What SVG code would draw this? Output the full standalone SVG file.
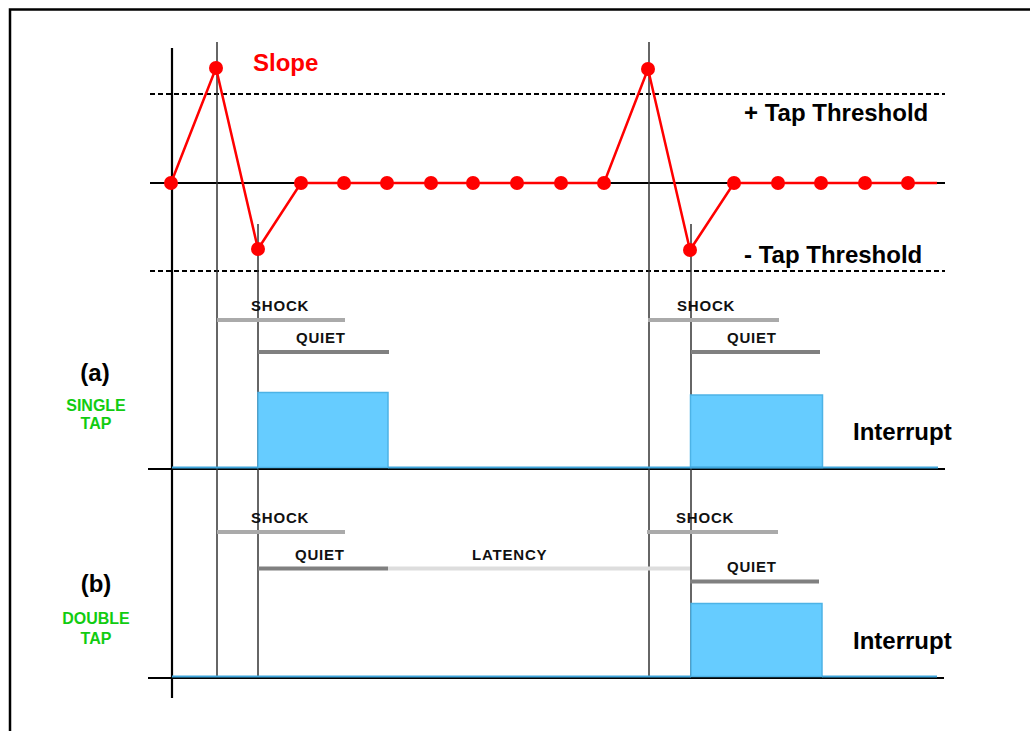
<svg xmlns="http://www.w3.org/2000/svg" width="1030" height="731" viewBox="0 0 1030 731">
<style>
.axis{stroke:#000;stroke-width:2.2;fill:none}
.dash{stroke:#000;stroke-width:2.2;stroke-dasharray:5 3;fill:none}
.vl{stroke:#333;stroke-width:1.5;fill:none}
.sig{stroke:#3fa6dc;stroke-width:2;fill:none}
.pulse{fill:#66ccff;stroke:#4db3e6;stroke-width:1.5}
.shock{stroke:#aaaaaa;stroke-width:4}
.quiet{stroke:#808080;stroke-width:4}
.lat{stroke:#dddddd;stroke-width:4}
.big{font-family:"Liberation Sans",Arial,sans-serif;font-weight:bold;font-size:24px;fill:#000}
.small{font-family:"Liberation Sans",Arial,sans-serif;font-weight:bold;font-size:15px;letter-spacing:0.8px;fill:#111}
.green{font-family:"Liberation Sans",Arial,sans-serif;font-weight:bold;font-size:16px;fill:#11cc11;text-anchor:middle}
.dot{fill:#ff0000}
</style>
<rect width="1030" height="731" fill="#fff"/>
<path d="M10,731 L10,9.5 L1032,9.5" fill="none" stroke="#000" stroke-width="2.5"/>

<g id="axes">
<line class="axis" x1="172" y1="48" x2="172" y2="698"/>
<line class="axis" x1="150" y1="183" x2="945" y2="183"/>
<line class="axis" x1="148" y1="469" x2="945" y2="469"/>
<line class="axis" x1="148" y1="678" x2="944" y2="678"/>
<line class="dash" x1="150" y1="94" x2="945" y2="94"/>
<line class="dash" x1="150" y1="271" x2="945" y2="271"/>
</g>

<g id="markers">
<line class="vl" x1="217" y1="42" x2="217" y2="677"/>
<line class="vl" x1="258" y1="224" x2="258" y2="677"/>
<line class="vl" x1="649" y1="42" x2="649" y2="677"/>
<line class="vl" x1="691" y1="224" x2="691" y2="677"/>
</g>

<g id="single-tap">
<line class="shock" x1="217" y1="320" x2="345" y2="320"/>
<line class="quiet" x1="258" y1="352" x2="389" y2="352"/>
<line class="shock" x1="648" y1="320" x2="779" y2="320"/>
<line class="quiet" x1="691" y1="352" x2="820" y2="352"/>
<rect class="pulse" x="258" y="392.5" width="130" height="75"/>
<rect class="pulse" x="690.5" y="395" width="132" height="72.5"/>
<polyline class="sig" points="172,467.5 258,467.5"/>
<polyline class="sig" points="388,467.5 938,467.5"/>
<text class="small" x="251" y="311">SHOCK</text>
<text class="small" x="296" y="343">QUIET</text>
<text class="small" x="677" y="311">SHOCK</text>
<text class="small" x="727" y="343">QUIET</text>
<text class="big" x="853" y="440">Interrupt</text>
<text class="big" x="95" y="381" text-anchor="middle">(a)</text>
<text class="green" x="96" y="411">SINGLE</text>
<text class="green" x="96" y="429">TAP</text>
</g>

<g id="double-tap">
<line class="shock" x1="217" y1="532" x2="345" y2="532"/>
<line class="lat" x1="388" y1="568.5" x2="690" y2="568.5"/>
<line class="quiet" x1="258" y1="568.5" x2="388" y2="568.5"/>
<line class="shock" x1="647" y1="532" x2="778" y2="532"/>
<line class="quiet" x1="690" y1="581.5" x2="819" y2="581.5"/>
<rect class="pulse" x="691" y="603.5" width="131" height="73"/>
<polyline class="sig" points="172,676.5 691,676.5"/>
<polyline class="sig" points="822,676.5 937,676.5"/>
<text class="small" x="251" y="523">SHOCK</text>
<text class="small" x="295" y="560">QUIET</text>
<text class="small" x="472" y="560">LATENCY</text>
<text class="small" x="676" y="523">SHOCK</text>
<text class="small" x="727" y="572">QUIET</text>
<text class="big" x="853" y="649">Interrupt</text>
<text class="big" x="96" y="592" text-anchor="middle">(b)</text>
<text class="green" x="96" y="624">DOUBLE</text>
<text class="green" x="96" y="644">TAP</text>
</g>

<g id="slope">
<polyline fill="none" stroke="#ff0000" stroke-width="2.5" points="171,183 216,68 258,249 301,183 344,183 387,183 431,183 473,183 517,183 561,183 604,183 648,69 690,250 734,183 778,183 821,183 865,183 908,183 937,183"/>
<g class="dot">
<circle cx="171" cy="183" r="7"/><circle cx="216" cy="68" r="7"/><circle cx="258" cy="249" r="7"/>
<circle cx="301" cy="183" r="7"/><circle cx="344" cy="183" r="7"/><circle cx="387" cy="183" r="7"/>
<circle cx="431" cy="183" r="7"/><circle cx="473" cy="183" r="7"/><circle cx="517" cy="183" r="7"/>
<circle cx="561" cy="183" r="7"/><circle cx="604" cy="183" r="7"/><circle cx="648" cy="69" r="7"/>
<circle cx="690" cy="250" r="7"/><circle cx="734" cy="183" r="7"/><circle cx="778" cy="183" r="7"/>
<circle cx="821" cy="183" r="7"/><circle cx="865" cy="183" r="7"/><circle cx="908" cy="183" r="7"/>
</g>
<text class="big" x="253" y="71" style="fill:#ff0000">Slope</text>
<text class="big" x="744" y="121">+ Tap Threshold</text>
<text class="big" x="744" y="263">- Tap Threshold</text>
</g>
</svg>
